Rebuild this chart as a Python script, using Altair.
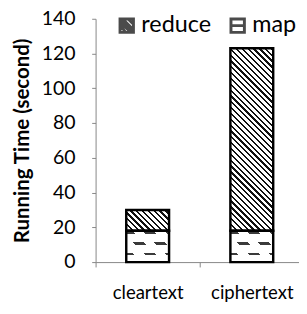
import altair as alt
import pandas as pd

# ---- data ----
categories = ["cleartext", "ciphertext"]
phases = ["reduce", "map"]
map_time = [18, 18]
reduce_time = [12, 105]
y_ticks = [0, 20, 40, 60, 80, 100, 120, 140]
y_title = "Running Time (second)"

rows = []
for c, m, r in zip(categories, map_time, reduce_time):
    rows.append({"cat": c, "phase": "map", "value": m, "y0": 0, "y1": m, "mid": m / 2})
    rows.append({"cat": c, "phase": "reduce", "value": r, "y0": m, "y1": m + r, "mid": m + r / 2})
df = pd.DataFrame(rows)

# ---- styling ----
FONT = "Lato"
W, H = 209, 250
STEP = 107
BAR_W = 44
YMAX = 140
PPU = H / YMAX
AXIS_GRAY = "#868686"
TRANSP = "rgba(255,255,255,0)"


def diag_grad(w, h, period, segs):
    """Stripes along x - y = const ('\\' direction) inside a w x h box."""
    L = w + h
    a = L / (w * w + h * h)
    stops = []
    base = -period
    while base < L:
        for a0, a1, col in segs:
            lo = max(base + a0, 0.0)
            hi = min(base + a1, L)
            if hi > lo:
                stops.append({"offset": round(lo / L, 5), "color": col})
                stops.append({"offset": round(hi / L, 5), "color": col})
        base += period
    return {"gradient": "linear", "x1": 0, "y1": 1, "x2": a * w, "y2": 1 - a * h,
            "stops": stops}


def row_grad(h, centers_from_bottom, thick, col, bg):
    stops = [{"offset": 0, "color": bg}]
    for yb in sorted(centers_from_bottom, reverse=True):
        yl = h - yb
        lo = max(yl - thick / 2, 0) / h
        hi = min(yl + thick / 2, h) / h
        stops += [{"offset": round(lo, 5), "color": bg}, {"offset": round(lo, 5), "color": col},
                  {"offset": round(hi, 5), "color": col}, {"offset": round(hi, 5), "color": bg}]
    stops.append({"offset": 1, "color": bg})
    return {"gradient": "linear", "x1": 0, "y1": 0, "x2": 0, "y2": 1, "stops": stops}


x_enc = alt.X("cat:N", sort=categories,
              scale=alt.Scale(domain=categories, range=[0, 2 * STEP], paddingInner=0, paddingOuter=0),
              axis=alt.Axis(title=None, labelAngle=0, tickBand="extent", domainColor=AXIS_GRAY,
                            tickColor=AXIS_GRAY, tickSize=5, labelFontSize=19, labelFont=FONT,
                            labelColor="black", labelPadding=17))
y_axis = alt.Axis(title=y_title, values=y_ticks, grid=False, domainColor=AXIS_GRAY, tickColor=AXIS_GRAY,
                  tickSize=4, labelFontSize=20, labelFont=FONT, labelColor="black", labelPadding=17,
                  titleFont=FONT, titleFontSize=21, titleFontWeight="bold", titleColor="black",
                  titleAngle=-90, titleX=-69, titleY=H / 2, titleBaseline="alphabetic", titleAlign="center")
y_scale = alt.Scale(domain=[0, YMAX], nice=False)

base = alt.Chart(df).encode(x=x_enc, y=alt.Y("y1:Q", scale=y_scale, axis=y_axis), y2="y0:Q")

p_reduce = "M-1,-1H1V1H-1Z M-1,-0.2L-0.2,1 M-1,-1L1,1 M0.2,-1L1,-0.2 M-1,-0.6L0.6,1 M-0.6,-1L1,0.6"
p_map = "M-1,-1H1V1H-1Z M-1,0H1"

legend_layer = alt.Chart(df).mark_point(filled=False, color="black", strokeWidth=3, size=190).encode(
    x=x_enc,
    y=alt.Y("mid:Q", scale=y_scale, axis=y_axis),
    shape=alt.Shape("phase:N", scale=alt.Scale(domain=phases, range=[p_reduce, p_map]),
                    legend=alt.Legend(title=None, orient="none", legendX=20, legendY=-5,
                                      direction="horizontal", labelFontSize=24, labelFont=FONT,
                                      labelColor="black", symbolSize=190, symbolStrokeWidth=3,
                                      symbolStrokeColor="black", columnPadding=14, labelOffset=3,
                                      padding=0)),
)

layers = [legend_layer]
for c, m, r in zip(categories, map_time, reduce_time):
    hm = m * PPU
    hr = r * PPU
    rows_fill = row_grad(hm, [8, 19, 30], 2.4, "#3a3a3a", "#ffffff")
    cut_fill = diag_grad(BAR_W, hm, 22, [(0, 5, "#ffffff"), (5, 16, TRANSP), (16, 22, "#ffffff")])
    hatch_fill = diag_grad(BAR_W, hr, 6, [(0, 2.3, "#111111"), (2.3, 6, "#ffffff")])
    fm = (alt.datum.cat == c) & (alt.datum.phase == "map")
    fr = (alt.datum.cat == c) & (alt.datum.phase == "reduce")
    layers.append(base.transform_filter(fm).mark_bar(width=BAR_W, fill=rows_fill, strokeWidth=0))
    layers.append(base.transform_filter(fm).mark_bar(width=BAR_W, fill=cut_fill, strokeWidth=0))
    layers.append(base.transform_filter(fr).mark_bar(width=BAR_W, fill=hatch_fill, strokeWidth=0))

layers.append(base.mark_bar(width=BAR_W, fill="transparent", stroke="black", strokeWidth=2.5))

chart = alt.layer(*layers).properties(
    width=W, height=H,
    autosize=alt.AutoSizeParams(type="none"),
    padding={"left": 90, "top": 7, "right": 0, "bottom": 40},
    background="white",
).configure_view(strokeWidth=0)

chart.save("out.html", embed_options={"renderer": "svg", "actions": False})
